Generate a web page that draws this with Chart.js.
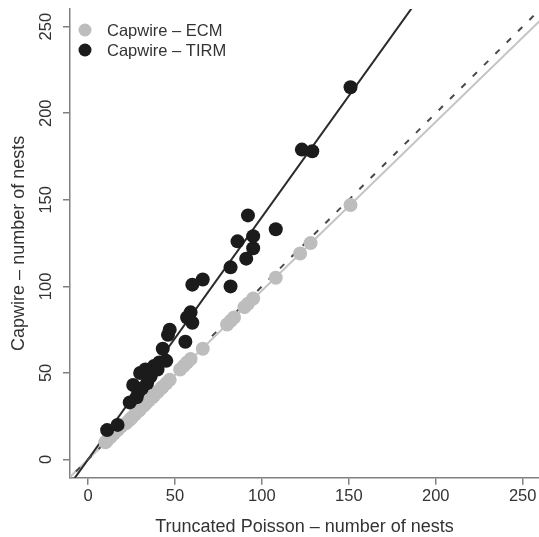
<!DOCTYPE html>
<html><head><meta charset="utf-8">
<script src="https://cdn.jsdelivr.net/npm/chart.js@4"></script>
<style>html,body{margin:0;padding:0;background:#fff;overflow:hidden}canvas{display:block}</style>
</head><body>
<canvas id="c" width="539" height="537"></canvas>
<script>
// ---- data ----
const seriesNames = ['Capwire \u2013 ECM', 'Capwire \u2013 TIRM'];
const xTitle = 'Truncated Poisson \u2013 number of nests';
const yTitle = 'Capwire \u2013 number of nests';
const tickValues = [0, 50, 100, 150, 200, 250];

const ecmX = [10,11,13,15,17,19,22,24,25,27,29,30,32,33,35,37,38,40,42,43,45,47,53,55,57,59,66,80,82,84,90,92,95,108,122,128,151];
const ecmY = [10,11,13,15,17,19,21,23,24,26,28,29,31,32,34,36,37,39,41,42,44,46,52,54,56,58,64,78,80,82,88,90,93,105,119,125,147];

const tirmX = [11,17,24,26,28,29,30,31,33,34,35,36,37,38,40,41,43,45,46,47,56,57,59,60,60,66,82,82,86,91,92,95,95,108,123,129,151];
const tirmY = [17,20,33,43,36,39,50,41,52,44,47,48,51,54,52,56,64,57,72,75,68,82,85,79,101,104,100,111,126,116,141,122,129,133,179,178,215];

// fitted lines (end points, clipped by the plot area)
const lineX = [-20, 270];
const tirmFitY = [-28, 378];
const ecmFitY = [-19.5, 263.3];
const identityY = [-20, 270];

const xRange = [-10.35, 259.4];
const yRange = [-10.5, 260.2];

const pts = (xs, ys) => xs.map((x, i) => ({x, y: ys[i]}));

const GRAY = '#bdbdbd', BLACK = '#1b1b1b';
const FONT = "'Liberation Sans', Arial, Helvetica, sans-serif";

const tickLabelPlugin = {
  id: 'tickLabels',
  afterDraw(chart) {
    const ctx = chart.ctx, sy = chart.scales.y, sx = chart.scales.x;
    ctx.save();
    ctx.font = '16.5px ' + FONT;
    ctx.fillStyle = '#333';
    ctx.textAlign = 'center';
    ctx.textBaseline = 'middle';
    sy.ticks.forEach(t => {
      const py = sy.getPixelForValue(t.value);
      ctx.save();
      ctx.translate(46, py);
      ctx.rotate(-Math.PI / 2);
      ctx.fillText(String(t.value), 0, 0);
      ctx.restore();
    });
    sx.ticks.forEach(t => {
      const px = sx.getPixelForValue(t.value);
      ctx.fillText(String(t.value), px, 496);
    });
    ctx.restore();
  }
};

const legendPlugin = {
  id: 'innerLegend',
  afterDraw(chart) {
    const ctx = chart.ctx;
    const items = [[seriesNames[0], GRAY], [seriesNames[1], BLACK]];
    ctx.save();
    ctx.font = '16.5px ' + FONT;
    ctx.textBaseline = 'middle';
    ctx.textAlign = 'left';
    items.forEach((it, i) => {
      const y = 30 + i * 20;
      ctx.beginPath();
      ctx.arc(85, y, 6.5, 0, Math.PI * 2);
      ctx.fillStyle = it[1];
      ctx.fill();
      ctx.fillStyle = '#333';
      ctx.fillText(it[0], 107, y + 1);
    });
    ctx.restore();
  }
};

const axisCommon = {
  type: 'linear',
  border: {display: true, color: '#808080', width: 1.5},
  grid: {drawOnChartArea: false, drawTicks: true, tickLength: 7, color: '#808080', lineWidth: 1.5},
};

new Chart(document.getElementById('c'), {
  type: 'scatter',
  data: {
    datasets: [
      {label: seriesNames[1], data: pts(tirmX, tirmY), backgroundColor: BLACK, pointRadius: 7, pointBorderWidth: 0, borderWidth: 0},
      {label: seriesNames[0], data: pts(ecmX, ecmY), backgroundColor: GRAY, pointRadius: 7, pointBorderWidth: 0, borderWidth: 0},
      {label: '1:1', data: pts(lineX, identityY), showLine: true, pointRadius: 0, borderColor: '#4a4a4a', borderWidth: 2, borderDash: [6, 10]},
      {label: 'TIRM fit', data: pts(lineX, tirmFitY), showLine: true, pointRadius: 0, borderColor: '#2a2a2a', borderWidth: 2},
      {label: 'ECM fit', data: pts(lineX, ecmFitY), showLine: true, pointRadius: 0, borderColor: '#c4c4c4', borderWidth: 2}
    ]
  },
  options: {
    responsive: false,
    animation: false,
    events: [],
    devicePixelRatio: 1,
    layout: {autoPadding: false, padding: {top: 9, right: 0, left: 0, bottom: 0}},
    plugins: {legend: {display: false}, tooltip: {enabled: false}},
    scales: {
      x: Object.assign({}, axisCommon, {
        min: xRange[0], max: xRange[1],
        afterBuildTicks: s => { s.ticks = tickValues.map(v => ({value: v})); },
        afterFit: s => { s.height = 59.3; s.paddingLeft = 0; s.paddingRight = 0; },
        ticks: {display: false, includeBounds: false},
        title: {display: true, text: xTitle, font: {family: FONT, size: 18}, color: '#333', padding: {top: 0, bottom: -1}}
      }),
      y: Object.assign({}, axisCommon, {
        min: yRange[0], max: yRange[1],
        afterBuildTicks: s => { s.ticks = tickValues.map(v => ({value: v})); },
        afterFit: s => { s.width = 70; s.paddingTop = 0; s.paddingBottom = 0; },
        ticks: {display: false, includeBounds: false},
        title: {display: true, text: yTitle, font: {family: FONT, size: 18}, color: '#333', padding: {top: 8, bottom: 0}}
      })
    }
  },
  plugins: [tickLabelPlugin, legendPlugin]
});
</script>
</body></html>
